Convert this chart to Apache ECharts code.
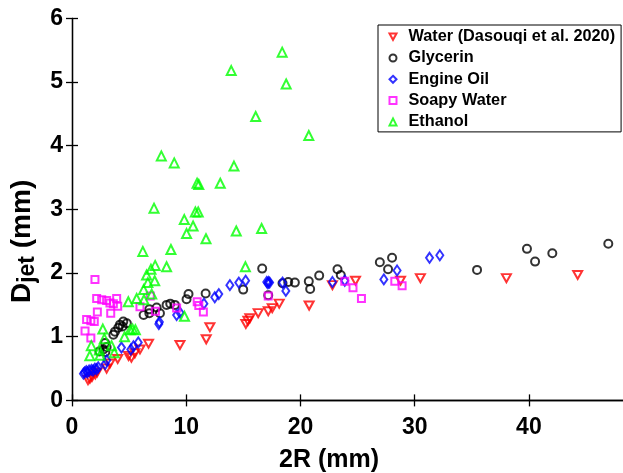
<!DOCTYPE html>
<html><head><meta charset="utf-8">
<script src="https://cdn.jsdelivr.net/npm/echarts@6/dist/echarts.min.js"></script>
<style>html,body{margin:0;padding:0;background:#fff}#c{width:623px;height:473px}</style>
</head><body><div id="c"></div><script>
const seriesNames = ['Water (Dasouqi et al. 2020)', 'Glycerin', 'Engine Oil', 'Soapy Water', 'Ethanol'];
const xTicks = [0, 10, 20, 30, 40];
const yTicks = [0, 1, 2, 3, 4, 5, 6];

const waterData = [[1.4,0.32],[1.57,0.34],[1.75,0.37],[2.04,0.41],[2.2,0.44],[3.03,0.5],[3.32,0.58],[4.0,0.65],[4.95,0.7],[5.2,0.67],[5.5,0.74],[5.95,0.8],[6.7,0.89],[9.45,0.87],[11.75,0.96],[12.07,1.15],[15.22,1.2],[15.4,1.25],[15.57,1.29],[16.3,1.37],[17.18,1.4],[17.53,1.45],[18.14,1.52],[20.76,1.49],[22.8,1.81],[24.82,1.88],[28.76,1.88],[30.5,1.92],[38.03,1.92],[44.27,1.97]];

const glycerinData = [[2.4,0.77],[2.75,0.8],[2.92,0.76],[2.9,0.9],[3.03,0.84],[3.62,1.03],[3.76,1.08],[4.05,1.14],[4.2,1.19],[4.43,1.16],[4.49,1.24],[4.8,1.21],[6.27,1.34],[6.77,1.37],[6.77,1.43],[7.41,1.46],[7.7,1.37],[8.28,1.5],[8.6,1.52],[9.01,1.5],[10.03,1.59],[10.2,1.67],[11.7,1.68],[14.99,1.74],[16.65,2.07],[17.18,1.65],[18.43,1.84],[18.93,1.86],[19.51,1.85],[20.73,1.87],[20.85,1.75],[21.64,1.96],[23.24,2.06],[23.53,1.97],[26.95,2.17],[28.02,2.24],[27.67,2.06],[35.46,2.05],[39.83,2.38],[40.54,2.18],[42.05,2.31],[46.95,2.46]];

const engineOilData = [[1.0,0.42],[1.1,0.44],[1.25,0.46],[1.35,0.44],[1.5,0.47],[1.7,0.48],[1.85,0.47],[2.0,0.5],[2.15,0.49],[2.3,0.52],[2.9,0.57],[3.05,0.63],[4.33,0.83],[5.15,0.8],[5.38,0.85],[5.8,0.91],[7.6,1.2],[7.65,1.23],[9.16,1.34],[9.45,1.38],[11.55,1.52],[12.5,1.62],[12.85,1.67],[13.82,1.81],[14.6,1.85],[15.2,1.88],[17.05,1.86],[17.2,1.86],[17.15,1.84],[17.3,1.85],[18.43,1.85],[18.72,1.72],[22.8,1.86],[23.88,1.88],[27.3,1.9],[28.46,2.04],[31.3,2.24],[32.2,2.28]];

const soapyWaterData = [[2.01,1.9],[2.16,1.6],[2.6,1.58],[3.03,1.57],[3.32,1.53],[3.62,1.52],[3.91,1.6],[4.0,1.48],[2.22,1.39],[3.39,1.37],[1.28,1.27],[1.65,1.25],[1.95,1.24],[1.14,1.09],[1.65,0.98],[5.95,1.47],[6.85,1.64],[7.3,1.4],[9.16,1.45],[10.96,1.55],[11.1,1.49],[11.5,1.39],[17.18,1.64],[23.88,1.87],[24.6,1.77],[25.34,1.6],[28.26,1.87],[28.9,1.8]];

const ethanolData = [[18.4,5.47],[18.75,4.97],[13.94,5.18],[16.08,4.46],[20.73,4.16],[7.82,3.84],[8.95,3.73],[14.18,3.68],[10.95,3.41],[11.1,3.39],[12.98,3.41],[7.18,3.02],[9.83,2.84],[10.8,2.96],[11.05,2.96],[10.6,2.74],[10.03,2.62],[11.73,2.54],[14.38,2.66],[16.6,2.7],[6.2,2.34],[8.66,2.37],[7.28,2.12],[8.28,2.1],[15.18,2.1],[6.91,2.06],[6.53,1.97],[6.64,1.85],[7.24,1.88],[6.27,1.74],[6.98,1.67],[6.3,1.58],[5.66,1.6],[4.93,1.55],[9.85,1.32],[2.7,1.12],[5.31,1.12],[5.55,1.11],[2.83,0.97],[4.6,1.0],[2.39,0.79],[3.46,0.86],[3.7,0.75],[1.56,0.7],[2.45,0.71],[1.69,0.86],[5.1,1.11]];

const FONT = '"Liberation Sans", Arial, Helvetica, sans-serif';
const DOWN_TRIANGLE = 'path://M0,0L10,0L5,9Z';

function mk(name, data, symbol, size, color) {
  return {
    name: name, type: 'scatter', data: data, symbol: symbol, symbolSize: size,
    itemStyle: { color: 'rgba(255,255,255,0)', borderColor: color, borderWidth: 2 },
    emphasis: { disabled: true }, silent: true
  };
}

const chart = echarts.init(document.getElementById('c'), null, { renderer: 'canvas' });
const axisLineStyle = { color: '#000', width: 1.3 };
chart.setOption({
  animation: false,
  backgroundColor: '#fff',
  grid: { left: 72, right: -3, top: 18.4, bottom: 72.6, containLabel: false, outerBoundsMode: 'none' },
  legend: {
    orient: 'vertical', left: 378, top: 25,
    data: [
      { name: seriesNames[0], icon: DOWN_TRIANGLE },
      { name: seriesNames[1] }, { name: seriesNames[2] }, { name: seriesNames[3] }, { name: seriesNames[4] }
    ],
    itemWidth: 7, itemHeight: 7, itemGap: 5.3,
    padding: [3.7, 6, 2, 10.5],
    borderColor: '#000', borderWidth: 1, backgroundColor: '#fff',
    textStyle: { fontFamily: FONT, fontSize: 16.3, fontWeight: 'bold', color: '#000', lineHeight: 16, padding: [0, 0, 0, 7] },
    selectedMode: false
  },
  xAxis: [{
    type: 'value', min: 0, max: 48.5, interval: 10,
    name: '2R (mm)', nameLocation: 'middle', nameGap: 47,
    nameTextStyle: { fontFamily: FONT, fontSize: 25, fontWeight: 'bold', color: '#000', padding: [0, 40, 0, 0] },
    axisLine: { show: true, lineStyle: axisLineStyle },
    axisTick: { show: true, inside: true, length: 6, lineStyle: axisLineStyle },
    axisLabel: { fontFamily: FONT, fontSize: 23, fontWeight: 'bold', color: '#000', margin: 16, showMaxLabel: false,
      formatter: function (v) { return xTicks.indexOf(v) >= 0 ? String(v) : ''; } },
    splitLine: { show: false }
  }, {
    type: 'value', position: 'top', min: 0, max: 48.5, interval: 10,
    axisLine: { show: true, lineStyle: axisLineStyle },
    axisTick: { show: true, inside: true, length: 6, lineStyle: axisLineStyle },
    axisLabel: { show: false }, splitLine: { show: false }
  }],
  yAxis: [{
    type: 'value', min: 0, max: 6, interval: 1,
    name: '{a|D}{s|jet}{a| (mm)}', nameLocation: 'middle', nameGap: 29, nameRotate: 90,
    nameTextStyle: { fontFamily: FONT, fontSize: 28, fontWeight: 'bold', color: '#000', padding: [0, 64, 0, 0],
      rich: {
        a: { fontFamily: FONT, fontSize: 28, fontWeight: 'bold', color: '#000', lineHeight: 34 },
        s: { fontFamily: FONT, fontSize: 23, fontWeight: 'bold', color: '#000', lineHeight: 26, verticalAlign: 'bottom' }
      } },
    axisLine: { show: true, lineStyle: axisLineStyle },
    axisTick: { show: true, inside: true, length: 6, lineStyle: axisLineStyle },
    axisLabel: { fontFamily: FONT, fontSize: 23, fontWeight: 'bold', color: '#000', margin: 9,
      formatter: function (v) { return yTicks.indexOf(v) >= 0 ? String(v) : ''; } },
    splitLine: { show: false }
  }, {
    type: 'value', position: 'right', min: 0, max: 6, interval: 1,
    axisLine: { show: true, lineStyle: axisLineStyle },
    axisTick: { show: true, inside: true, length: 6, lineStyle: axisLineStyle },
    axisLabel: { show: false }, splitLine: { show: false }
  }],
  series: [
    mk(seriesNames[0], waterData, DOWN_TRIANGLE, [9, 8], '#ff0000'),
    mk(seriesNames[1], glycerinData, 'circle', 8, '#000000'),
    mk(seriesNames[2], engineOilData, 'diamond', [7, 10], '#0000ff'),
    mk(seriesNames[3], soapyWaterData, 'rect', 7, '#ff00ff'),
    mk(seriesNames[4], ethanolData, 'triangle', 9, '#00ff00')
  ]
});
</script></body></html>
